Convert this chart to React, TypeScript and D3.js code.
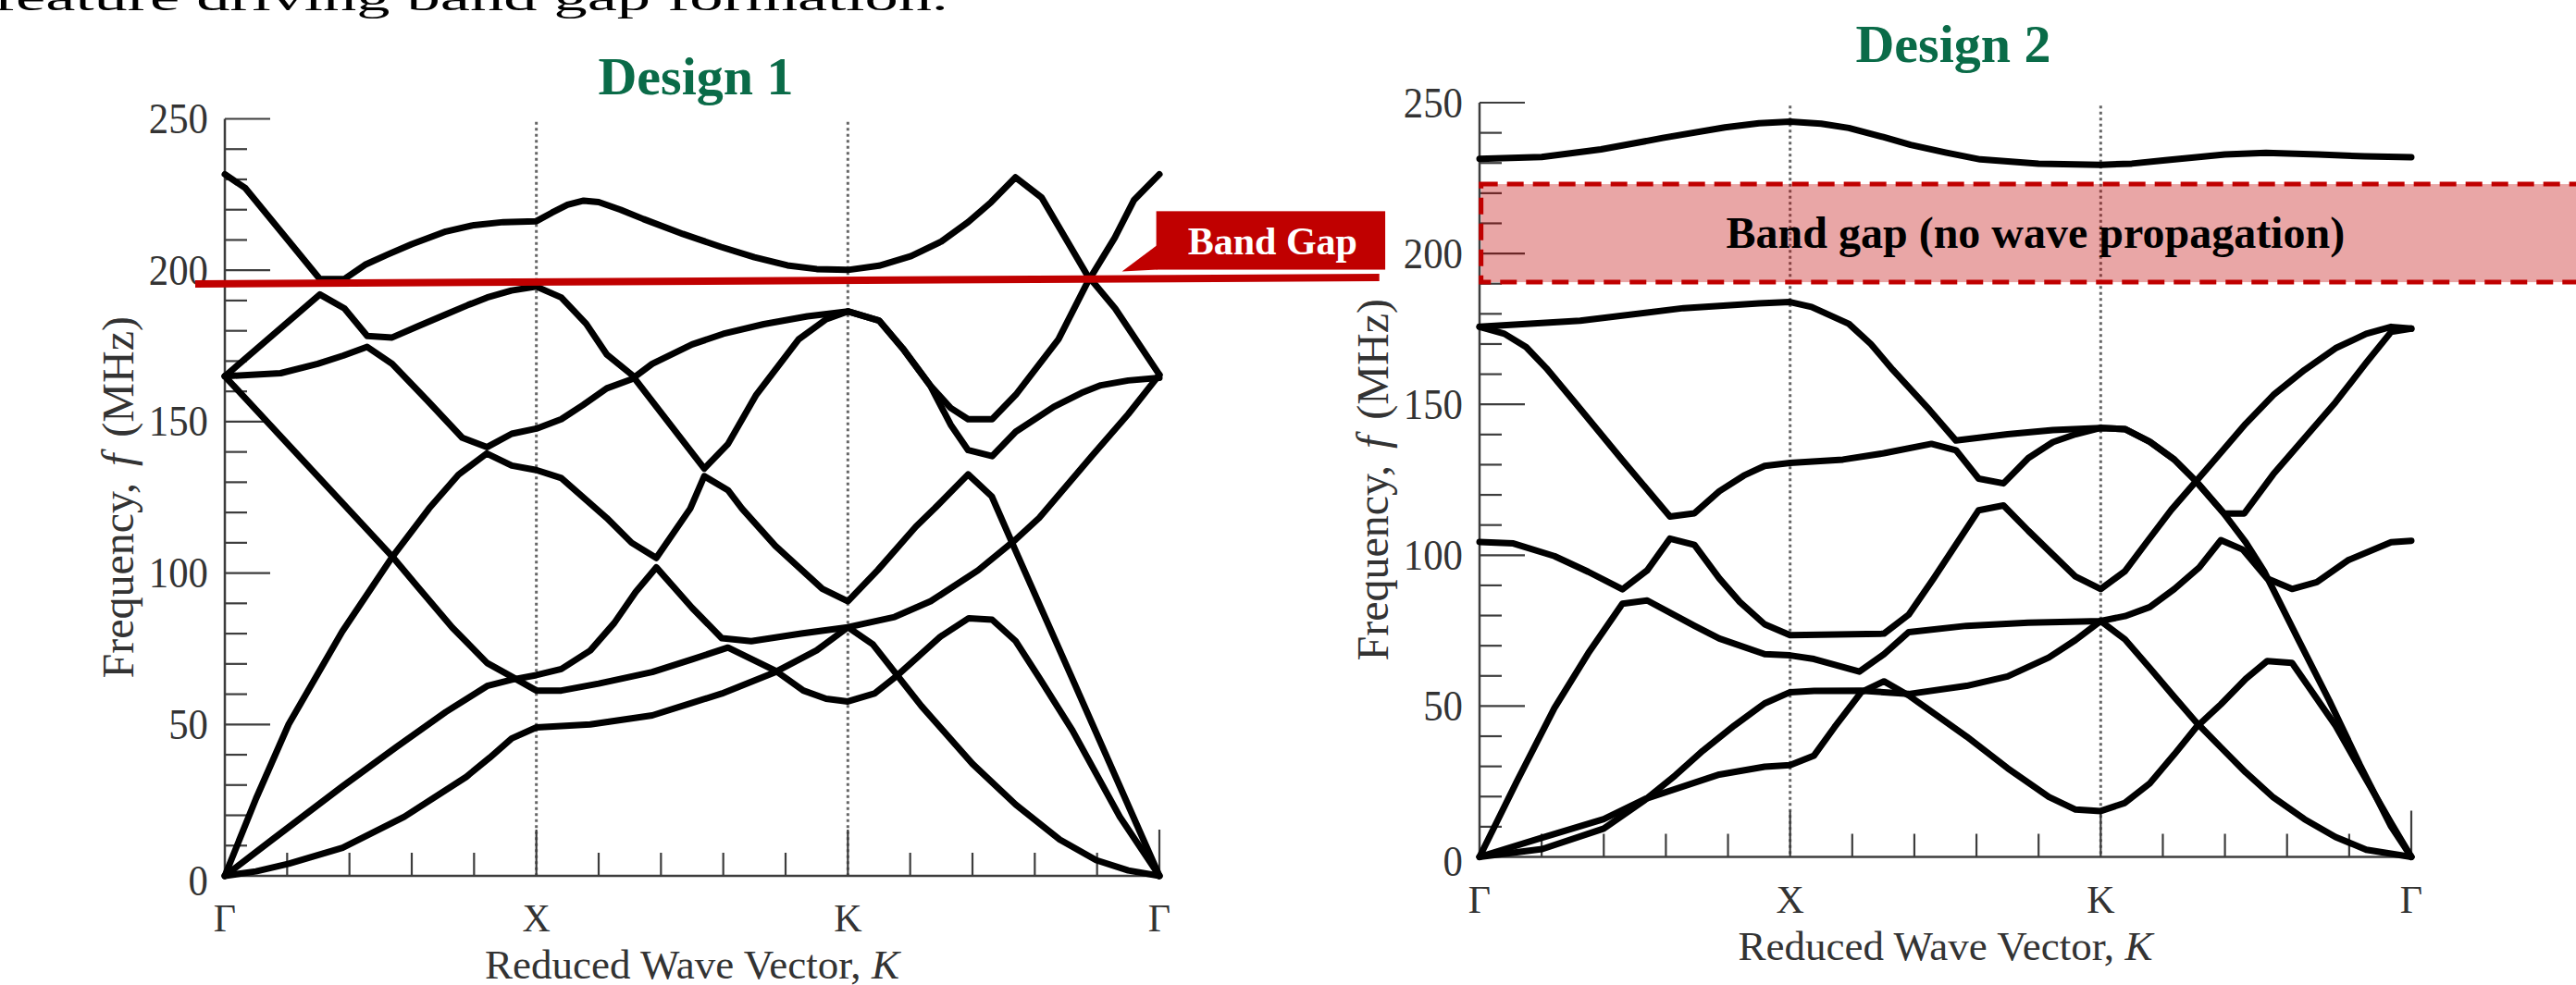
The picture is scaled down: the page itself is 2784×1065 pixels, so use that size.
import { useEffect, useRef } from 'react';
import * as d3 from 'd3';

type Pt = [number, number];

// position along the zone contour: Γ=0, X=1, K=2, Γ=3 ; frequency in MHz
const symLabels = ['Γ', 'X', 'K', 'Γ'];
const freqTicks = [0, 50, 100, 150, 200, 250];

// ---- Design 1 bands ----
const d1Band1: Pt[] = [[0, 231.7], [0.066, 227.1], [0.305, 197.1], [0.384, 197.1], [0.45, 201.8], [0.523, 205.2], [0.6, 208.6], [0.709, 212.8], [0.8, 214.9], [0.894, 215.9], [1.0, 216.2], [1.05, 219], [1.1, 221.6], [1.152, 223], [1.2, 222.5], [1.27, 220], [1.344, 216.9], [1.47, 212], [1.593, 207.7], [1.7, 204.3], [1.806, 201.6], [1.9, 200.4], [2.0, 200.1], [2.1, 201.5], [2.203, 204.7], [2.3, 209.5], [2.386, 215.9], [2.46, 222.5], [2.538, 230.7], [2.622, 224], [2.767, 198.6], [2.858, 187.4], [3, 165.5]];
const d1Band2: Pt[] = [[0, 165], [0.305, 192], [0.384, 187.4], [0.457, 178.3], [0.537, 177.8], [0.62, 181.5], [0.709, 185.4], [0.78, 188.5], [0.842, 191], [0.92, 193.3], [1.0, 194.6], [1.08, 191], [1.16, 182.3], [1.226, 172.2], [1.306, 165.5], [1.539, 134.5], [1.615, 142.6], [1.706, 158.9], [1.842, 177.2], [1.93, 183.8], [2.0, 186.4], [2.1, 183.4], [2.176, 174.2], [2.264, 162], [2.33, 154.5], [2.386, 150.8], [2.463, 150.8], [2.539, 158.9], [2.676, 177.2], [2.767, 195.6], [2.857, 210.8], [2.918, 223.1], [3, 231.7]];
const d1Band3: Pt[] = [[0, 165], [0.179, 166], [0.298, 169.1], [0.38, 171.8], [0.457, 174.7], [0.537, 169.1], [0.65, 157], [0.762, 144.7], [0.842, 141.6], [0.921, 146], [1.0, 147.7], [1.08, 150.8], [1.15, 155.5], [1.226, 161], [1.306, 164], [1.372, 169.1], [1.5, 175.5], [1.6, 179], [1.73, 182.2], [1.87, 184.8], [2.0, 186.4], [2.1, 183.4], [2.176, 174.2], [2.264, 162], [2.33, 149], [2.386, 140.6], [2.463, 138.6], [2.539, 146.7], [2.661, 154.9], [2.75, 159.5], [2.812, 162], [2.9, 163.6], [3, 164.5]];
const d1Band4: Pt[] = [[0, 165], [0.537, 105.5], [0.616, 95.8], [0.73, 82], [0.842, 70.3], [0.921, 65.8], [1.0, 61.2], [1.08, 61.2], [1.2, 63.5], [1.372, 67.3], [1.5, 71.5], [1.615, 75.4], [1.767, 67.8], [1.857, 61.2], [1.93, 58.5], [2.0, 57.6], [2.085, 60.2], [2.16, 66.3], [2.297, 79], [2.388, 85.1], [2.463, 84.6], [2.539, 77.5], [2.615, 65.3], [2.721, 48], [2.873, 19.5], [3, 0]];
const d1Band5: Pt[] = [[0, 0], [0.1, 25.5], [0.205, 50.1], [0.377, 80.7], [0.536, 105.1], [0.656, 121.4], [0.75, 132.5], [0.841, 139.5], [0.921, 135.5], [1.0, 134], [1.08, 131.4], [1.226, 118.2], [1.306, 110], [1.385, 105], [1.494, 121.3], [1.539, 132], [1.615, 127.4], [1.66, 121.3], [1.767, 109], [1.918, 94.8], [2.0, 90.7], [2.096, 101], [2.218, 115.3], [2.279, 121.4], [2.386, 132.6], [2.462, 125.3], [2.538, 107.5], [2.721, 65], [3, 0]];
const d1Band6: Pt[] = [[0, 0], [0.15, 11.8], [0.378, 29.6], [0.55, 42.5], [0.709, 54.1], [0.842, 62.7], [0.921, 64.8], [1.0, 66.3], [1.08, 68.3], [1.173, 74.4], [1.25, 83.5], [1.319, 93.8], [1.385, 101.9], [1.5, 88.5], [1.595, 78.5], [1.69, 77.5], [1.85, 80], [2.0, 82.1], [2.15, 85.5], [2.266, 90.7], [2.418, 100.9], [2.539, 111.1], [2.614, 118.2], [2.782, 138.5], [2.9, 152.5], [3, 165.5]];
const d1Band7: Pt[] = [[0, 0], [0.1, 1.5], [0.205, 4], [0.378, 9.3], [0.576, 19.5], [0.775, 32.7], [0.85, 39], [0.921, 45.4], [1.0, 49], [1.173, 50], [1.372, 53], [1.595, 60.2], [1.767, 67.3], [1.9, 74.5], [2.0, 82.1], [2.08, 76.5], [2.236, 56.1], [2.4, 37], [2.539, 23.5], [2.68, 12], [2.797, 5.2], [2.9, 1.8], [3, 0]];
const design1Bands = [d1Band1, d1Band2, d1Band3, d1Band4, d1Band5, d1Band6, d1Band7];

// ---- Design 2 bands ----
const d2Band1: Pt[] = [[0, 231.4], [0.2, 232], [0.391, 234.5], [0.59, 238.3], [0.79, 241.8], [0.9, 243.2], [1.0, 243.7], [1.1, 243], [1.189, 241.6], [1.3, 238.6], [1.388, 236], [1.5, 233.5], [1.612, 231.2], [1.8, 229.8], [2.0, 229.4], [2.1, 229.8], [2.208, 230.9], [2.4, 232.8], [2.532, 233.4], [2.7, 232.8], [2.85, 232.2], [3.0, 231.9]];
const d2Band2: Pt[] = [[0, 175.7], [0.324, 177.7], [0.657, 181.9], [0.9, 183.5], [1.0, 183.9], [1.069, 182.3], [1.189, 176.7], [1.26, 170], [1.33, 161.5], [1.45, 148], [1.534, 138], [1.7, 140.1], [1.846, 141.5], [2.0, 142.2], [2.078, 141.8], [2.158, 137.6], [2.237, 131.7], [2.307, 124.5], [2.397, 113.8], [2.462, 113.8], [2.556, 126.9], [2.656, 138.8], [2.756, 150.7], [2.855, 163.8], [2.935, 174], [3, 175.1]];
const d2Band3: Pt[] = [[0, 175.7], [0.08, 173.4], [0.15, 169], [0.215, 162], [0.308, 150.5], [0.46, 131.5], [0.613, 112.8], [0.692, 113.9], [0.772, 121.2], [0.851, 126.4], [0.918, 129.6], [1.0, 130.6], [1.17, 131.7], [1.302, 133.8], [1.455, 136.9], [1.534, 134.8], [1.607, 125.4], [1.687, 123.8], [1.767, 132.2], [1.846, 137.5], [1.919, 140.1], [2.0, 142.2], [2.078, 141.8], [2.158, 137.6], [2.237, 131.7], [2.307, 124.5], [2.397, 113.8], [2.467, 104.3], [2.526, 94.7], [2.636, 72.1], [2.736, 51.8], [2.835, 30.4], [2.935, 10.1], [3, 0]];
const d2Band4: Pt[] = [[0, 104.4], [0.109, 103.9], [0.241, 99.7], [0.35, 94.5], [0.46, 88.7], [0.54, 95], [0.613, 105.5], [0.692, 103.4], [0.772, 92.3], [0.838, 84.5], [0.918, 77.1], [1.0, 73.5], [1.15, 73.7], [1.302, 74], [1.382, 80.3], [1.462, 92.3], [1.607, 114.9], [1.687, 116.5], [1.767, 108.1], [1.919, 92.9], [2.0, 88.8], [2.078, 94.7], [2.148, 104.3], [2.227, 115], [2.307, 124.5], [2.377, 132.8], [2.467, 143.6], [2.556, 153.1], [2.656, 161.4], [2.756, 168.6], [2.855, 173.4], [2.935, 175.7], [3, 175.1]];
const d2Band5: Pt[] = [[0, 0], [0.12, 25], [0.241, 49.3], [0.35, 67.5], [0.46, 83.9], [0.54, 85], [0.692, 76.6], [0.772, 72.4], [0.918, 67.2], [1.0, 66.8], [1.077, 65.6], [1.223, 61.4], [1.302, 67.2], [1.382, 74.5], [1.568, 76.6], [1.767, 77.6], [1.938, 78], [2.0, 78.2], [2.078, 79.8], [2.158, 82.8], [2.237, 88.8], [2.317, 95.9], [2.387, 105], [2.457, 101.9], [2.536, 92.3], [2.616, 88.8], [2.696, 91.1], [2.796, 98.3], [2.935, 104.3], [3, 104.8]];
const d2Band6: Pt[] = [[0, 0], [0.2, 6.3], [0.4, 12.5], [0.533, 19.2], [0.772, 27.3], [0.918, 29.9], [1.0, 30.4], [1.077, 33.6], [1.143, 43], [1.229, 54.6], [1.302, 58.2], [1.382, 53.5], [1.568, 39.9], [1.7, 29.4], [1.833, 19.9], [1.919, 15.7], [2.0, 15.2], [2.078, 17.9], [2.158, 24.4], [2.237, 34], [2.307, 42.9], [2.387, 50.6], [2.467, 59], [2.536, 64.9], [2.616, 64.3], [2.676, 55.4], [2.756, 43.5], [2.835, 29.2], [2.935, 11.3], [3, 0]];
const d2Band7: Pt[] = [[0, 0], [0.202, 2.6], [0.4, 9.4], [0.533, 18.9], [0.63, 27], [0.719, 35.2], [0.82, 43.5], [0.918, 50.9], [1.0, 54.6], [1.077, 55], [1.229, 55.1], [1.382, 54], [1.568, 56.7], [1.7, 59.8], [1.833, 66.1], [1.919, 71.9], [2.0, 78.2], [2.078, 72.1], [2.158, 62.6], [2.237, 53], [2.307, 44.7], [2.387, 36.3], [2.467, 28], [2.556, 19.7], [2.656, 12.5], [2.756, 6.6], [2.855, 2.4], [3, 0]];
const design2Bands = [d2Band1, d2Band2, d2Band3, d2Band4, d2Band5, d2Band6, d2Band7];

// band-gap annotations (data units)
const d1GapLine = { t0: -0.095, f0: 195.5, t1: 3.706, f1: 197.6 };
const d1Callout = { t0: 2.99, t1: 3.725, fTop: 219.5, fBottom: 200.2, tipT: 2.88, tipF: 199.6, tailF: 208.3, text: 'Band Gap' };
const d2Gap = { t0: 0.005, t1: 3.7, fLow: 190.5, fHigh: 223, text: 'Band gap (no wave propagation)', textT: 1.79, textF: 201.9 };

const SERIF = "'Liberation Serif', 'Times New Roman', serif";
const GREEN = '#0a6b48';
const RED = '#c00000';
const AXIS = '#3d3d3d';

interface Panel {
  title: string;
  bands: Pt[][];
  left: number; right: number; top: number; bottom: number;
  titleX: number; titleY: number;
}

const panels: Panel[] = [
  { title: 'Design 1', bands: design1Bands, left: 243, right: 1253, top: 128.5, bottom: 947, titleX: 752, titleY: 102 },
  { title: 'Design 2', bands: design2Bands, left: 1599, right: 2606, top: 111, bottom: 926.5, titleX: 2111, titleY: 67 },
];

function drawPanel(svg: any, p: Panel) {
  const x = d3.scaleLinear().domain([0, 3]).range([p.left, p.right]);
  const y = d3.scaleLinear().domain([0, 250]).range([p.bottom, p.top]);
  const g = svg.append('g');

  // dotted guides at X and K
  g.selectAll('line.guide').data([1, 2]).enter().append('line')
    .attr('x1', (d: number) => x(d)).attr('x2', (d: number) => x(d))
    .attr('y1', y(249)).attr('y2', y(0))
    .attr('stroke', '#666').attr('stroke-width', 3).attr('stroke-dasharray', '3 3.5');

  // axes
  g.append('line').attr('x1', x(0)).attr('x2', x(3)).attr('y1', y(0)).attr('y2', y(0))
    .attr('stroke', AXIS).attr('stroke-width', 2.5);
  g.append('line').attr('x1', x(0)).attr('x2', x(0)).attr('y1', y(0)).attr('y2', y(250))
    .attr('stroke', AXIS).attr('stroke-width', 2.5);
  for (let v = 10; v <= 250; v += 10) {
    const major = v % 50 === 0;
    g.append('line').attr('x1', x(0)).attr('x2', x(0) + (major ? 49 : 24))
      .attr('y1', y(v)).attr('y2', y(v)).attr('stroke', AXIS).attr('stroke-width', 2.2);
  }
  for (let i = 1; i <= 15; i++) {
    const major = i % 5 === 0;
    g.append('line').attr('x1', x(i / 5)).attr('x2', x(i / 5))
      .attr('y1', y(0)).attr('y2', y(0) - (major ? 50 : 25)).attr('stroke', AXIS).attr('stroke-width', 2.2);
  }

  // tick labels
  freqTicks.forEach(v => {
    g.append('text')
      .attr('transform', `translate(${x(0) - 18},${y(v) + (v === 0 ? 5 : 0)}) scale(0.93,1)`)
      .attr('text-anchor', 'end').attr('dominant-baseline', 'central')
      .attr('font-family', SERIF).attr('font-size', 46).attr('fill', '#333')
      .text(v);
  });
  symLabels.forEach((s, i) => {
    g.append('text')
      .attr('x', x(i)).attr('y', y(0) + 60)
      .attr('text-anchor', 'middle')
      .attr('font-family', SERIF).attr('font-size', 42).attr('fill', '#333')
      .text(s);
  });

  // axis titles
  const xt = g.append('text')
    .attr('x', (x(0) + x(3)) / 2).attr('y', y(0) + 111)
    .attr('text-anchor', 'middle')
    .attr('font-family', SERIF).attr('font-size', 45).attr('fill', '#333');
  xt.append('tspan').text('Reduced Wave Vector, ');
  xt.append('tspan').attr('font-style', 'italic').text('K');

  const yt = g.append('text')
    .attr('transform', `translate(${x(0) - 99},${(y(0) + y(250)) / 2}) rotate(-90)`)
    .attr('text-anchor', 'middle')
    .attr('font-family', SERIF).attr('font-size', 48).attr('fill', '#333');
  yt.append('tspan').text('Frequency,');
  yt.append('tspan').attr('dx', 18).attr('font-style', 'italic').text('f');
  yt.append('tspan').attr('dx', 18).text('(MHz)');

  // bands
  const line = d3.line<Pt>().x(d => x(d[0])).y(d => y(d[1])).curve(d3.curveLinear);
  g.selectAll('path.band').data(p.bands).enter().append('path')
    .attr('d', (d: Pt[]) => line(d))
    .attr('fill', 'none').attr('stroke', '#000').attr('stroke-width', 7)
    .attr('stroke-linejoin', 'round').attr('stroke-linecap', 'round');

  // title
  svg.append('text')
    .attr('x', p.titleX).attr('y', p.titleY)
    .attr('text-anchor', 'middle')
    .attr('font-family', SERIF).attr('font-weight', 'bold').attr('font-size', 58).attr('fill', GREEN)
    .text(p.title);

  return { x, y };
}

export default function App() {
  const svgRef = useRef<SVGSVGElement>(null);

  useEffect(() => {
    if (!svgRef.current) return;
    document.body.style.margin = '0';
    const svg = d3.select(svgRef.current);
    svg.selectAll('*').remove();

    // caption line cut off at the top of the slide
    svg.append('text')
      .attr('x', -7).attr('y', 11)
      .attr('font-family', SERIF).attr('font-size', 40).attr('fill', '#000')
      .attr('textLength', 1032).attr('lengthAdjust', 'spacingAndGlyphs')
      .text('feature driving band gap formation.');

    const s1 = drawPanel(svg, panels[0]);
    const s2 = drawPanel(svg, panels[1]);

    // Design 1: band gap line + callout
    svg.append('line')
      .attr('x1', s1.x(d1GapLine.t0)).attr('y1', s1.y(d1GapLine.f0))
      .attr('x2', s1.x(d1GapLine.t1)).attr('y2', s1.y(d1GapLine.f1))
      .attr('stroke', RED).attr('stroke-width', 8);
    const c = d1Callout;
    svg.append('path')
      .attr('d', `M${s1.x(c.t0) + 1},${s1.y(c.tailF)} L${s1.x(c.tipT)},${s1.y(c.tipF)} L${s1.x(c.t0) + 1},${s1.y(c.fBottom)} Z`)
      .attr('fill', RED);
    svg.append('rect')
      .attr('x', s1.x(c.t0)).attr('y', s1.y(c.fTop))
      .attr('width', s1.x(c.t1) - s1.x(c.t0)).attr('height', s1.y(c.fBottom) - s1.y(c.fTop))
      .attr('fill', RED);
    svg.append('text')
      .attr('x', (s1.x(c.t0) + s1.x(c.t1)) / 2 + 2).attr('y', s1.y(c.fBottom) - 17)
      .attr('text-anchor', 'middle')
      .attr('font-family', SERIF).attr('font-weight', 'bold').attr('font-size', 42).attr('fill', '#fff')
      .text(c.text);

    // Design 2: shaded band gap
    svg.append('rect')
      .attr('x', s2.x(d2Gap.t0)).attr('y', s2.y(d2Gap.fHigh))
      .attr('width', s2.x(d2Gap.t1) - s2.x(d2Gap.t0)).attr('height', s2.y(d2Gap.fLow) - s2.y(d2Gap.fHigh))
      .attr('fill', RED).attr('fill-opacity', 0.35)
      .attr('stroke', RED).attr('stroke-width', 5).attr('stroke-dasharray', '18 10');
    svg.append('text')
      .attr('x', s2.x(d2Gap.textT)).attr('y', s2.y(d2Gap.textF))
      .attr('text-anchor', 'middle')
      .attr('font-family', SERIF).attr('font-weight', 'bold').attr('font-size', 48).attr('fill', '#000')
      .text(d2Gap.text);
  }, []);

  return (
    <svg ref={svgRef} width={2784} height={1065} viewBox="0 0 2784 1065"
      style={{ position: 'absolute', left: 0, top: 0, background: '#fff' }} />
  );
}
